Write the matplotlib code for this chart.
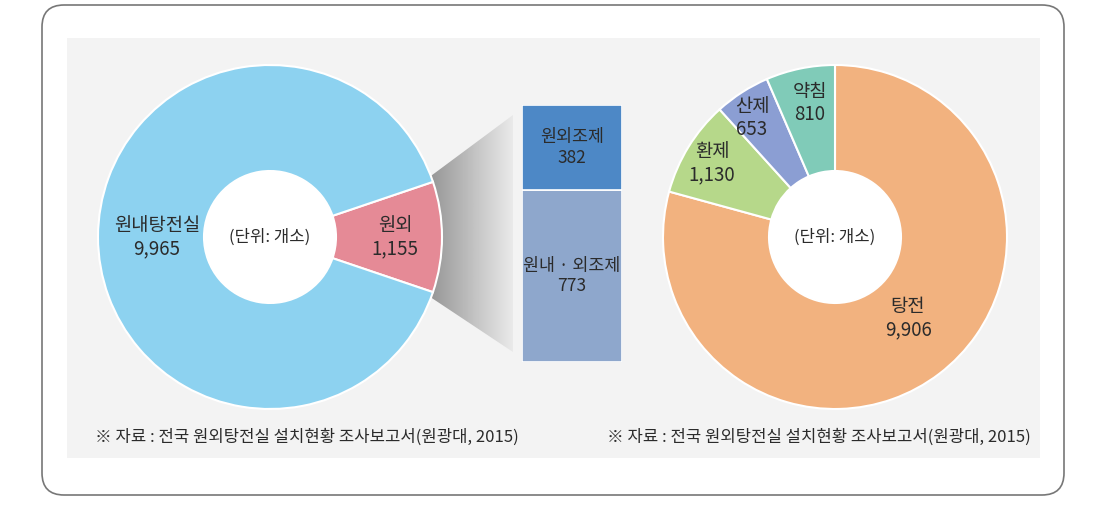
import numpy as np
import matplotlib
matplotlib.use("Agg")
import matplotlib.pyplot as plt
from matplotlib.patches import FancyBboxPatch, Rectangle, Circle, Polygon

plt.rcParams['font.family'] = ['Noto Sans CJK KR', 'DejaVu Sans']

# left donut: facility type
left_labels = ['원외', '원내탕전실']
left_values = [1155, 9965]
left_colors = ['#e58a96', '#8dd2f0']

# breakdown of 원외
bar_labels = ['원내 · 외조제', '원외조제']
bar_values = [773, 382]
bar_colors = ['#8ea7cc', '#4d88c6']

# right donut: preparation type
right_labels = ['탕전', '환제', '산제', '약침']
right_values = [9906, 1130, 653, 810]
right_colors = ['#f2b27f', '#b6d88a', '#8b9ed3', '#80cbb8']

source = '※ 자료 : 전국 원외탕전실 설치현황 조사보고서(원광대, 2015)'
unit = '(단위: 개소)'

W, H = 1102, 505
R_OUT, R_IN = 172, 66
text_color = '#2b2b2b'
LBL = 13.5


def fmt(v):
    return f'{v:,}'


fig = plt.figure(figsize=(W / 100, H / 100), dpi=100)
ax = fig.add_axes([0, 0, 1, 1])

# frame and panel
ax.add_patch(FancyBboxPatch((42, 10), 1022, 490, boxstyle='round,pad=0,rounding_size=22',
                            facecolor='white', edgecolor='#777777', linewidth=1.2))
ax.add_patch(Rectangle((67, 47), 973, 420, facecolor='#f3f3f3', edgecolor='none'))

# ---- left donut
lc = (270, H - 237)
half = left_values[0] / sum(left_values) * 360 / 2
ax.pie(left_values, colors=left_colors, radius=R_OUT, center=lc, startangle=-half,
       counterclock=True, frame=True,
       wedgeprops=dict(width=R_OUT - R_IN, edgecolor='white', linewidth=1.5, zorder=2))
ax.add_patch(Circle(lc, R_IN, facecolor='white', edgecolor='none', zorder=2))
ax.text(lc[0], lc[1], unit, ha='center', va='center', fontsize=12, color=text_color)
ax.text(lc[0] - 113, lc[1], f'{left_labels[1]}\n{fmt(left_values[1])}', ha='center',
        va='center', fontsize=LBL, color=text_color, linespacing=1.15)
ax.text(lc[0] + 125, lc[1], f'{left_labels[0]}\n{fmt(left_values[0])}', ha='center',
        va='center', fontsize=LBL, color=text_color, linespacing=1.15)

# ---- connector with gradient (dark at the pie, fading toward the bar)
bx0, bx1, by_top, by_bot = 522, 622, H - 105, H - 362
cx = 513
a = np.radians(half)
px = lc[0] + R_OUT * np.cos(a)
poly = Polygon([(px - 10, lc[1] + R_OUT * np.sin(a)), (cx, by_top - 10),
                (cx, by_bot + 10), (px - 10, lc[1] - R_OUT * np.sin(a))],
               closed=True, facecolor='none', edgecolor='none')
ax.add_patch(poly)
g = np.interp(np.linspace(0, 1, 200), [0, 0.5, 1], [0.56, 0.74, 0.92])
grad = np.tile(g, (10, 1))
im = ax.imshow(grad, cmap='gray', vmin=0, vmax=1, aspect='auto',
               extent=(px - 10, cx, by_bot, by_top), zorder=1.5)
im.set_clip_path(poly)

# ---- stacked bar
bax = fig.add_axes([bx0 / W, by_bot / H, (bx1 - bx0) / W, (by_top - by_bot) / H])
bottom = 0
for lab, v, c in zip(bar_labels, bar_values, bar_colors):
    bax.bar(0, v, bottom=bottom, width=1, color=c, edgecolor='white', linewidth=1.2)
    bax.text(0, bottom + v / 2, f'{lab}\n{fmt(v)}', ha='center', va='center',
             fontsize=12.5, color=text_color, linespacing=1.15)
    bottom += v
bax.set_xlim(-0.5, 0.5)
bax.set_ylim(0, sum(bar_values))
bax.axis('off')

# ---- right donut
rc = (835, H - 237)
ax.pie(right_values, colors=right_colors, radius=R_OUT, center=rc, startangle=90,
       counterclock=False, frame=True,
       wedgeprops=dict(width=R_OUT - R_IN, edgecolor='white', linewidth=1.5))
ax.add_patch(Circle(rc, R_IN, facecolor='white', edgecolor='none'))
ax.text(rc[0], rc[1], unit, ha='center', va='center', fontsize=12, color=text_color)
label_pos = [(908, 318), (712, 163), (752, 118), (810, 103)]
for lab, v, (x, y) in zip(right_labels, right_values, label_pos):
    ax.text(x, H - y, f'{lab}\n{fmt(v)}', ha='center', va='center', fontsize=LBL,
            color=text_color, linespacing=1.15)

# ---- sources
ax.text(95, H - 437, source, ha='left', va='center', fontsize=12, fontweight='medium',
        color=text_color)
ax.text(607, H - 437, source, ha='left', va='center', fontsize=12, fontweight='medium',
        color=text_color)

ax.set_xlim(0, W)
ax.set_ylim(0, H)
ax.set_aspect('auto')
ax.axis('off')

fig.savefig('out.png', dpi=100, facecolor='white')
